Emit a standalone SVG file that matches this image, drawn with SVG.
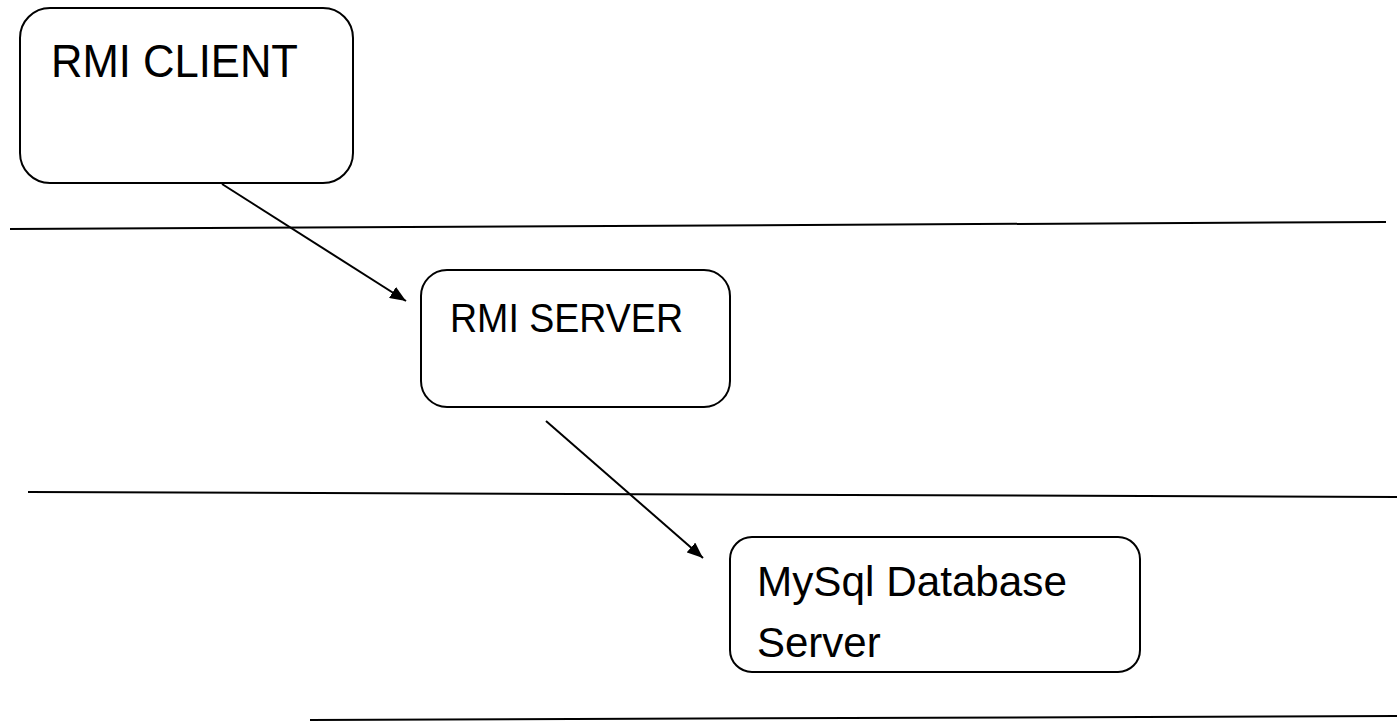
<svg xmlns="http://www.w3.org/2000/svg" width="1397" height="728" viewBox="0 0 1397 728">
<style>
.box{fill:#fff;stroke:#000;stroke-width:2}
.t{font-family:"Liberation Sans",Arial,sans-serif;fill:#000}
.sep{stroke:#000;stroke-width:2}
.conn{stroke:#000;stroke-width:2;fill:none}
</style>
<defs>
<marker id="ah" markerWidth="16" markerHeight="13" refX="16" refY="6.5" orient="auto" markerUnits="userSpaceOnUse" viewBox="0 0 16 13">
<path d="M0,0 L16,6.5 L0,13 z" fill="#000"/>
</marker>
</defs>
<g id="separators">
<line class="sep" x1="10" y1="229" x2="1386" y2="222"/>
<line class="sep" x1="28" y1="492" x2="1397" y2="497"/>
<line class="sep" x1="310" y1="720" x2="1397" y2="716"/>
</g>
<g id="client">
<rect class="box" x="20" y="8" width="333" height="175" rx="30"/>
<text class="t" x="51" y="77" font-size="47" textLength="247" lengthAdjust="spacingAndGlyphs">RMI CLIENT</text>
</g>
<g id="server">
<rect class="box" x="421" y="270" width="309" height="137" rx="26"/>
<text class="t" x="450" y="332" font-size="40" textLength="233" lengthAdjust="spacingAndGlyphs">RMI SERVER</text>
</g>
<g id="db">
<rect class="box" x="730" y="537" width="410" height="135" rx="22"/>
<text class="t" x="757" y="596" font-size="42" textLength="310" lengthAdjust="spacingAndGlyphs">MySql Database</text>
<text class="t" x="757" y="657" font-size="42">Server</text>
</g>
<g id="connectors">
<line class="conn" x1="222" y1="184" x2="406" y2="301" marker-end="url(#ah)"/>
<line class="conn" x1="546" y1="421" x2="703" y2="558" marker-end="url(#ah)"/>
</g>
</svg>
